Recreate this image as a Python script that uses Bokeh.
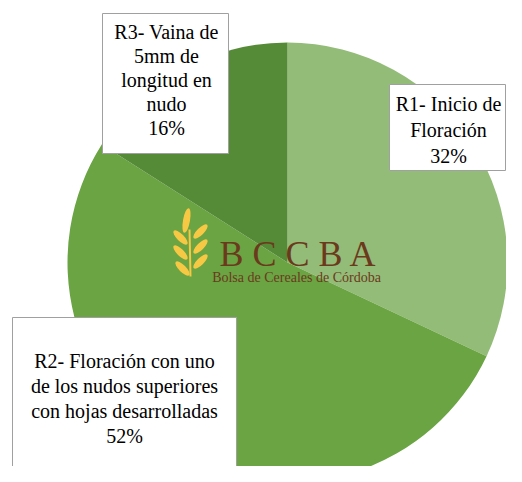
import numpy as np
from bokeh.plotting import figure
from bokeh.models import Range1d, ColumnDataSource
from bokeh.embed import file_html
from bokeh.resources import INLINE

# ---- data ----
categories = ["R1- Inicio de Floración",
              "R2- Floración con uno de los nudos superiores con hojas desarrolladas",
              "R3- Vaina de 5mm de longitud en nudo"]
percentages = [32, 52, 16]
colors = ["#93bc78", "#6aa443", "#558a37"]
label_lines = [["R1- Inicio de", "Floración"],
               ["R2- Floración con uno", "de los nudos superiores", "con hojas desarrolladas"],
               ["R3- Vaina de", "5mm de", "longitud en", "nudo"]]

W, H = 506, 466
p = figure(width=W, height=H, output_backend="svg", toolbar_location=None,
           x_range=Range1d(0, W), y_range=Range1d(0, H), min_border=0)
p.axis.visible = False
p.grid.visible = False
p.outline_line_color = None
p.background_fill_color = "white"
p.border_fill_color = "white"

# ---- pie ----
cx, cy, r = 287, 204, 220
frac = np.array(percentages, dtype=float) / sum(percentages)
cum = np.concatenate([[0], np.cumsum(frac)])
start = np.pi / 2 - cum[:-1] * 2 * np.pi
end = np.pi / 2 - cum[1:] * 2 * np.pi
src = ColumnDataSource(dict(start=start, end=end, color=colors, cat=categories))
p.wedge(x=cx, y=cy, radius=r, start_angle="start", end_angle="end",
        direction="clock", fill_color="color", line_color=None, source=src)

# ---- watermark logo ----
kx = [186, 200, 200, 200, 180, 180, 182]
ky = [246, 235, 220, 205, 229, 214, 198]
kw = [25, 19, 19, 19, 19, 19, 19]
ka = [80, 45, 45, 45, 135, 135, 135]
p.segment(x0=190, y0=190, x1=189, y1=237, line_color="#f7c843", line_width=2)
p.ellipse(x=kx, y=ky, width=kw, height=7, angle=np.deg2rad(ka),
          fill_color="#f7c843", line_color=None)
p.text(x=[298], y=[213], text=["B C C B A"], text_font_size="36px",
       text_font="Liberation Serif", text_color="#6b3a1c",
       text_align="center", text_baseline="alphabetic")
p.text(x=[296], y=[189], text=["Bolsa de Cereales de Córdoba"], text_font_size="14px",
       text_font="Liberation Serif", text_color="#6b3a1c",
       text_align="center", text_baseline="alphabetic")

# ---- label boxes ----
box_l = [389, 12, 102]
box_r = [505, 236, 228]
box_t = [382, 149, 453]
box_b = [296, -11, 313]
p.quad(left=box_l, right=box_r, top=box_t, bottom=box_b,
       fill_color="white", line_color="#a0a0a0", line_width=1)

text_cx = [448, 124, 166]
text_cy = [337, 68.5, 386.5]
spacing = [26, 25, 24]
xs, ys, ts = [], [], []
for i in range(3):
    lines = label_lines[i] + [f"{percentages[i]}%"]
    n = len(lines)
    for j, t in enumerate(lines):
        xs.append(text_cx[i])
        ys.append(text_cy[i] + ((n - 1) / 2 - j) * spacing[i])
        ts.append(t)
p.text(x=xs, y=ys, text=ts, text_font_size="20px", text_font="Lato",
       text_color="#000000", text_align="center", text_baseline="middle")

open("out.html", "w").write(file_html(p, INLINE))
